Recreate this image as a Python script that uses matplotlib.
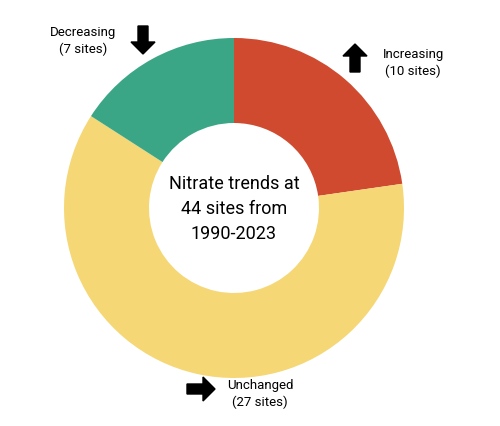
import matplotlib.pyplot as plt

labels = ['Increasing', 'Unchanged', 'Decreasing']
sites = [10, 27, 7]
colors = ['#D04A2F', '#F5D775', '#3BA686']

R = 170.0  # outer radius in pixels
cx, cy = 234, 209


def px(x, y):
    # pixel position in the picture -> data coords
    return (x - cx) / R, (cy - y) / R


fig = plt.figure(figsize=(5, 4.27), dpi=100)
ax = fig.add_axes([0, 0, 1, 1])
ax.pie(sites, colors=colors, startangle=90, counterclock=False, radius=1,
       wedgeprops=dict(width=0.5, edgecolor='white', linewidth=0))
ax.set_xlim(-cx / R, (500 - cx) / R)
ax.set_ylim(-(427 - cy) / R, cy / R)
ax.set_aspect('equal')
ax.axis('off')

ax.text(0, 0, 'Nitrate trends at\n44 sites from\n1990-2023', ha='center', va='center',
        fontsize=13, linespacing=1.5, family='Roboto')

# labels with block arrows
label_pos = [(413, 63), (260, 394), (83, 41)]
arrow_pos = [((355, 73), (0, -28)), ((187, 390), (28, 0)), ((143, 27), (0, 28))]
for name, n, (tx, ty), ((ax0, ay0), (dx, dy)) in zip(labels, sites, label_pos, arrow_pos):
    x, y = px(tx, ty)
    ax.text(x, y, f'{name}\n({n} sites)', ha='center', va='center', fontsize=9.5,
            linespacing=1.4, family='Roboto')
    x0, y0 = px(ax0, ay0)
    ax.arrow(x0, y0, dx / R, -dy / R, width=10 / R, head_width=24 / R,
             head_length=12 / R, length_includes_head=True, color='black')

fig.savefig('out.png', dpi=100)
